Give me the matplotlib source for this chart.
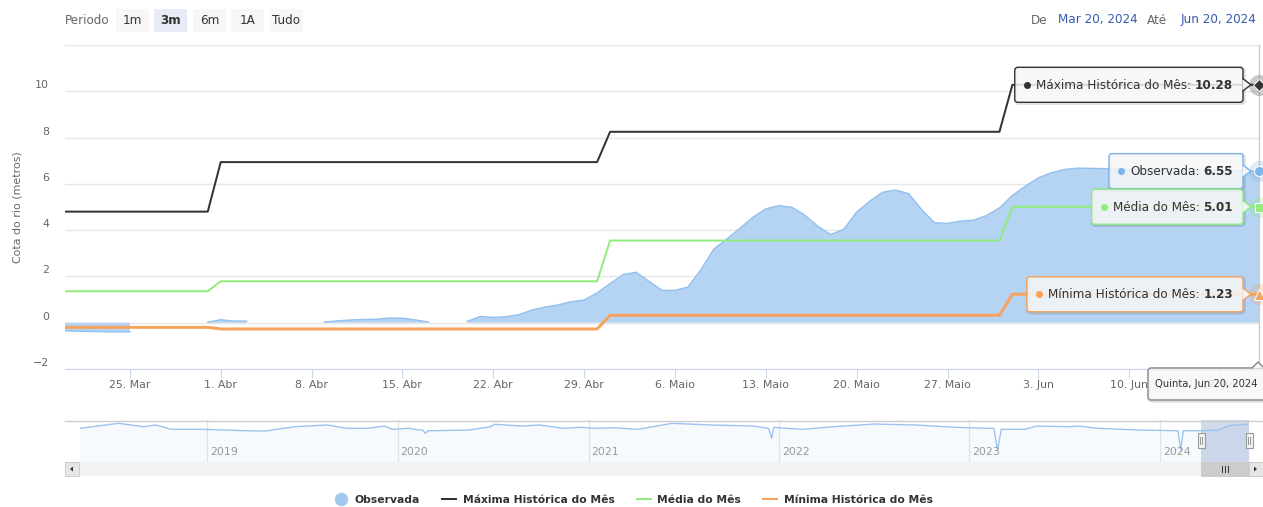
import numpy as np
import pandas as pd
import matplotlib
matplotlib.use('Agg')
import matplotlib.pyplot as plt
import matplotlib.dates as mdates
import matplotlib.transforms as mtransforms
from matplotlib.patches import FancyBboxPatch, Rectangle, Polygon
from matplotlib.lines import Line2D

plt.rcParams['font.family'] = ['DejaVu Sans']

# ---- dados ----
dias = pd.date_range('2024-03-20', '2024-06-20', freq='D')
observada = [
    -0.35, -0.37, -0.38, -0.39, -0.40, -0.40,
    None, None, None, None, None,
    0.02, 0.13, 0.07, 0.07,
    None, None, None, None, None,
    0.03, 0.08, 0.12, 0.14, 0.15, 0.20, 0.20, 0.12, 0.03,
    None, None,
    0.06, 0.27, 0.23, 0.26, 0.35, 0.55, 0.68, 0.77, 0.91, 0.98,
    1.29, 1.69, 2.08, 2.18, 1.79, 1.40, 1.40, 1.54, 2.29, 3.19,
    3.62, 4.08, 4.55, 4.92, 5.06, 4.99, 4.65, 4.17, 3.81, 4.03,
    4.78, 5.25, 5.64, 5.73, 5.58, 4.89, 4.32, 4.29, 4.39, 4.43,
    4.63, 4.96, 5.50, 5.90, 6.26, 6.48, 6.62, 6.68, 6.67, 6.66,
    6.66, 6.65, 6.65, 6.64, 6.63, 6.62, 6.61, 6.60, 6.58, 6.57, 6.56, 6.55,
]
meses = ['2024-03', '2024-04', '2024-05', '2024-06']
maxima_mes = [4.80, 6.94, 8.25, 10.28]
media_mes = [1.36, 1.79, 3.55, 5.01]
minima_mes = [-0.20, -0.27, 0.32, 1.23]

# serie completa do navegador (aproximada)
nav_datas = ['2018-05-02', '2018-07-15', '2018-09-01', '2018-09-24', '2018-10-24',
             '2018-12-26', '2019-03-14', '2019-04-22', '2019-06-17', '2019-08-19',
             '2019-09-26', '2019-11-04', '2019-12-06', '2019-12-22', '2020-01-21',
             '2020-02-13', '2020-02-18', '2020-02-23', '2020-02-28', '2020-03-09',
             '2020-05-17', '2020-06-27', '2020-07-05', '2020-08-27', '2020-09-29',
             '2020-11-14', '2020-12-17', '2021-01-17', '2021-02-17', '2021-04-06',
             '2021-06-10', '2021-08-26', '2021-11-12', '2021-12-12', '2021-12-18',
             '2021-12-22', '2022-02-14', '2022-04-16', '2022-07-03', '2022-09-20',
             '2022-12-06', '2023-02-07', '2023-02-17', '2023-02-24', '2023-03-03',
             '2023-04-17', '2023-05-10', '2023-07-12', '2023-07-28', '2023-09-04',
             '2023-11-22', '2024-02-01', '2024-02-05', '2024-02-10', '2024-02-15',
             '2024-03-20', '2024-04-20', '2024-05-13', '2024-06-20']
nav_valores = [2.12, 7.28, 3.77, 5.53, 1.09,
               1.09, -0.35, -0.66, 3.77, 5.53,
               2.12, 2.12, 4.50, 1.09, 2.12,
               0.37, 0.37, -3.03, -0.35, -0.35,
               0.37, 3.77, 6.25, 4.50, 5.53,
               2.12, 3.16, 2.12, 2.74, 1.09,
               7.28, 5.53, 4.50, 2.12, -8.2,
               3.16, 1.09, 3.77, 6.56, 5.53,
               3.16, 2.12, 2.12, -20.25, 1.09,
               1.09, 4.50, 3.77, 4.50, 2.12,
               0.37, -0.35, -0.35, -20.25, -0.35,
               -0.35, 0.10, 4.90, 6.55]
anos = [2019, 2020, 2021, 2022, 2023, 2024]

tick_datas = pd.date_range('2024-03-25', '2024-06-17', freq='7D')
mes_pt = {3: 'Mar', 4: 'Abr', 5: 'Maio', 6: 'Jun'}
dia_semana = ['Segunda', 'Terça', 'Quarta', 'Quinta', 'Sexta', 'Sábado', 'Domingo']
botoes = ['1m', '3m', '6m', '1A', 'Tudo']
botao_sel = '3m'

W, H = 1263, 507


def pt(p):
    # pixels -> points (dpi 100)
    return p * 0.72


obs = np.array([np.nan if v is None else v for v in observada], dtype=float)
idx = [meses.index(d.strftime('%Y-%m')) for d in dias]
maxima = np.array(maxima_mes)[idx]
media = np.array(media_mes)[idx]
minima = np.array(minima_mes)[idx]

fig = plt.figure(figsize=(W / 100, H / 100), dpi=100)

# ---- grafico principal ----
ax = fig.add_axes([65 / W, 1 - 369 / H, (1259 - 65) / W, (369 - 45) / H])
ax.fill_between(dias, obs, 0, color='#b5d3f2', lw=0, zorder=2)
ax.plot(dias, obs, color='#94c0ee', lw=1, zorder=3)
ax.plot(dias, maxima, color='#333333', lw=pt(2), zorder=4)
ax.plot(dias, media, color='#90ed7d', lw=pt(2), zorder=4)
ax.plot(dias, minima, color='#f7a35c', lw=pt(3), zorder=4)
ax.axvline(dias[-1], color='#cccccc', lw=1, zorder=5, clip_on=False)

ax.set_xlim(dias[0], dias[-1])
ax.set_ylim(-2, 12)
ax.set_yticks(range(-2, 13, 2))
ax.set_yticklabels([])
ax.tick_params(axis='y', length=0)
ax.grid(axis='y', color='#e6e6e6', lw=1)
ax.set_axisbelow(True)
for s in ['left', 'right', 'top']:
    ax.spines[s].set_visible(False)
ax.spines['bottom'].set_color('#ccd6eb')
ax.set_xticks(tick_datas)
ax.set_xticklabels([f'{d.day}. {mes_pt[d.month]}' for d in tick_datas])
ax.tick_params(axis='x', length=pt(9), color='#ccd6eb', labelcolor='#666666',
               labelsize=pt(11), pad=pt(2))

tr = mtransforms.blended_transform_factory(ax.transAxes, ax.transData) + \
    mtransforms.ScaledTranslation(-0.16, 0.06, fig.dpi_scale_trans)
for v in range(-2, 11, 2):
    ax.text(0, v, str(v).replace('-', '\u2212'), transform=tr, ha='right', va='center',
            fontsize=pt(11), color='#666666')

# marcadores do ponto final
xe = dias[-1]
for val, mk, col, ms in [(maxima[-1], 'D', '#333333', pt(8)),
                         (obs[-1], 'o', '#7cb5ec', pt(10)),
                         (media[-1], 's', '#90ed7d', pt(9)),
                         (minima[-1], '^', '#f7a35c', pt(11))]:
    ax.plot(xe, val, 'o', ms=pt(21), color=col, alpha=0.25, mew=0, clip_on=False, zorder=6)
    ax.plot(xe, val, mk, ms=ms, color=col, mec='white', mew=0.7, clip_on=False, zorder=7)

# ---- navegador ----
nd = pd.to_datetime(nav_datas)
nav = fig.add_axes([80 / W, 1 - 462 / H, (1249 - 80) / W, (462 - 420) / H])
nav.set_xlim(nd[0], nd[-1])
nav.set_ylim(-32.6, 10.7)
nav.fill_between(nd, nav_valores, -32.6, color='#7cb5ec', alpha=0.06, lw=0)
nav.plot(nd, nav_valores, color='#9cc3ee', lw=1)
ytr = mtransforms.blended_transform_factory(nav.transData, nav.transAxes) + \
    mtransforms.ScaledTranslation(0.03, 0, fig.dpi_scale_trans)
for a in anos:
    nav.axvline(pd.Timestamp(f'{a}-01-01'), color='#e6e6e6', lw=1, zorder=0)
    nav.text(pd.Timestamp(f'{a}-01-01'), 0.24, str(a), transform=ytr, ha='left',
             va='center', fontsize=pt(11), color='#999999')
nav.axvspan(dias[0], dias[-1], color=(102 / 255, 133 / 255, 194 / 255), alpha=0.3, lw=0)
nav.axis('off')

# ---- camada de decoracao em pixels ----
deco = fig.add_axes([0, 0, 1, 1], zorder=10)
deco.set_xlim(0, W)
deco.set_ylim(H, 0)
deco.axis('off')
deco.patch.set_alpha(0)

deco.text(18, 207, 'Cota do rio (metros)', rotation=90, ha='center', va='center',
          fontsize=pt(11), color='#666666')

# seletor de periodo
deco.text(65, 20, 'Periodo', ha='left', va='center', fontsize=pt(12), color='#666666')
bx = [116, 154, 193, 231, 270]
for b, x in zip(botoes, bx):
    sel = b == botao_sel
    deco.add_patch(Rectangle((x, 9), 33, 23, fc='#e6ebf5' if sel else '#f7f7f7', ec='none'))
    deco.text(x + 16.5, 20.5, b, ha='center', va='center', fontsize=pt(12), color='#333333',
              fontweight='bold' if sel else 'normal')

deco.text(1047, 20, 'De', ha='right', va='center', fontsize=pt(12), color='#666666')
deco.text(1138, 20, f'{dias[0]:%b %d, %Y}', ha='right', va='center', fontsize=pt(12),
          color='#335cad')
deco.text(1167, 20, 'Até', ha='right', va='center', fontsize=pt(12), color='#666666')
deco.text(1256, 20, f'{dias[-1]:%b %d, %Y}', ha='right', va='center', fontsize=pt(12),
          color='#335cad')

# navegador: contorno, barra de rolagem, alcas
deco.plot([65, 1263], [420.5, 420.5], color='#cccccc', lw=1)
mx0 = nav.transData.transform((mdates.date2num(dias[0]), 0))[0]
mx1 = nav.transData.transform((mdates.date2num(dias[-1]), 0))[0]
deco.add_patch(Rectangle((65, 462), 1198, 14, fc='#f2f2f2', ec='none'))
deco.add_patch(Rectangle((65, 462), 14, 14, fc='#e6e6e6', ec='#cccccc', lw=0.7))
deco.add_patch(Polygon([(70, 469), (73, 466.5), (73, 471.5)], fc='#333333', ec='none'))
deco.add_patch(Rectangle((1249, 462), 14, 14, fc='#e6e6e6', ec='#cccccc', lw=0.7))
deco.add_patch(Polygon([(1257, 469), (1254, 466.5), (1254, 471.5)], fc='#333333', ec='none'))
deco.add_patch(Rectangle((mx0, 462), mx1 - mx0, 14, fc='#cccccc', ec='#cccccc', lw=0.7))
cx = (mx0 + mx1) / 2
for dx in (-3, 0, 3):
    deco.plot([cx + dx, cx + dx], [466, 472], color='#333333', lw=0.7)
for mx in (mx0, mx1):
    deco.add_patch(Rectangle((mx - 3.5, 433), 7, 15, fc='#f2f2f2', ec='#999999', lw=0.8))
    for dx in (-1, 1):
        deco.plot([mx + dx, mx + dx], [437, 444], color='#999999', lw=0.7)

# ---- tooltips ----
tips = [('Máxima Histórica do Mês', maxima[-1], '#333333'),
        ('Observada', obs[-1], '#7cb5ec'),
        ('Média do Mês', media[-1], '#90ed7d'),
        ('Mínima Histórica do Mês', minima[-1], '#f7a35c')]
r = fig.canvas.get_renderer()
xr = 1243
for nome, val, col in tips:
    yp = H - ax.transData.transform((mdates.date2num(xe), val))[1]
    tv = deco.text(xr - 10, yp + 4, f'{val:.2f}', ha='right', va='baseline',
                   fontsize=pt(12), fontweight='bold', color='#333333')
    wv = tv.get_window_extent(r).width
    tl = deco.text(xr - 10 - wv - 4, yp + 4, f'{nome}:', ha='right', va='baseline',
                   fontsize=pt(12), color='#333333')
    xl = tl.get_window_extent(r).x0
    x0 = xl - 21
    deco.add_patch(FancyBboxPatch((x0 + 1, yp - 17.5 + 1), xr - x0, 35,
                                  boxstyle='round,pad=0,rounding_size=3', fc='none',
                                  ec=(0, 0, 0, 0.12), lw=2.5, zorder=1))
    deco.add_patch(FancyBboxPatch((x0, yp - 17.5), xr - x0, 35,
                                  boxstyle='round,pad=0,rounding_size=3',
                                  fc=(0.969, 0.969, 0.969, 0.85), ec=col, lw=1, zorder=2))
    deco.add_patch(Polygon([(xr - 0.6, yp - 6), (xr + 8, yp), (xr - 0.6, yp + 6)],
                           fc='#f2f3f5', ec='none', zorder=3))
    deco.plot([xr, xr + 8, xr], [yp - 6, yp, yp + 6], color=col, lw=1, zorder=3)
    deco.plot(xl - 9, yp, 'o', ms=pt(7), color=col, mew=0, zorder=4)
    tv.set_zorder(5)
    tl.set_zorder(5)

# tooltip da data
deco.add_patch(FancyBboxPatch((1149, 369), 130, 32, boxstyle='round,pad=0,rounding_size=3',
                              fc='none', ec=(0, 0, 0, 0.12), lw=2.5, zorder=1))
deco.add_patch(FancyBboxPatch((1148, 368), 130, 32, boxstyle='round,pad=0,rounding_size=3',
                              fc=(0.969, 0.969, 0.969, 0.85), ec='#888888', lw=1, zorder=2))
deco.add_patch(Polygon([(1252, 368.6), (1258, 362), (1264, 368.6)], fc='#f7f7f7', ec='none',
                       zorder=3))
deco.plot([1252, 1258, 1264], [368, 362, 368], color='#888888', lw=1, zorder=3)
deco.text(1155, 384, f'{dia_semana[xe.weekday()]}, {xe:%b %d, %Y}', ha='left', va='center',
          fontsize=pt(10), color='#333333', zorder=5)

# ---- legenda ----
handles = [Line2D([], [], marker='o', ls='none', color='#a3c8ef', ms=pt(12)),
           Line2D([], [], color='#333333', lw=pt(2)),
           Line2D([], [], color='#90ed7d', lw=pt(2)),
           Line2D([], [], color='#f7a35c', lw=pt(2))]
rotulos = ['Observada', 'Máxima Histórica do Mês', 'Média do Mês', 'Mínima Histórica do Mês']
fig.legend(handles, rotulos, loc='center', bbox_to_anchor=(633.5 / W, 1 - 500 / H), ncol=4,
           frameon=False, prop={'weight': 'bold', 'size': pt(10.7)}, labelcolor='#333333',
           handlelength=1.3, handletextpad=0.65, columnspacing=2.05)

fig.savefig('out.png', dpi=100)
